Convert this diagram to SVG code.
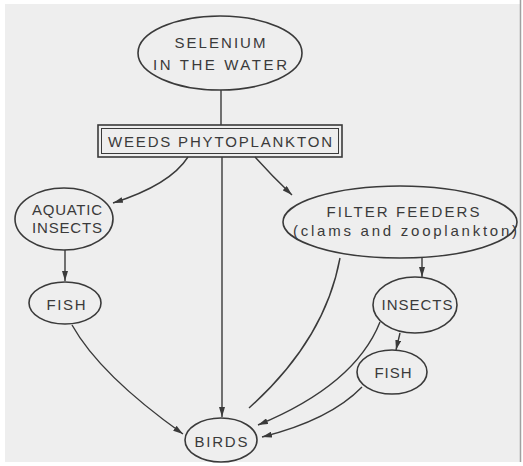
<svg xmlns="http://www.w3.org/2000/svg" width="523" height="466" viewBox="0 0 523 466">
<style>
.n{fill:none;stroke:#3a3a3a;stroke-width:1.6}
.c{fill:none;stroke:#3a3a3a;stroke-width:1.4}
text{font-family:"Liberation Sans",Arial,sans-serif;font-size:15px;fill:#3a3a3a;text-anchor:middle}
</style>
<defs>
<marker id="a" viewBox="0 0 10 6" refX="10" refY="3" markerWidth="10" markerHeight="6" markerUnits="userSpaceOnUse" orient="auto">
<path d="M0,0 L10,3 L0,6 Z" fill="#3a3a3a"/>
</marker>
</defs>
<rect width="523" height="466" fill="#ffffff"/>
<rect x="5" y="4" width="515" height="458" fill="#eeeeee"/>
<line x1="520.5" y1="0" x2="520.5" y2="462" stroke="#a0a0a0" stroke-width="1.5"/>
<g id="connectors">
<line class="c" x1="221" y1="90" x2="221" y2="125"/>
<line class="c" x1="222" y1="157" x2="222" y2="417" marker-end="url(#a)"/>
<path class="c" d="M188,157 Q170,185 113,203" marker-end="url(#a)"/>
<path class="c" d="M255,157 Q272,176 292,195" marker-end="url(#a)"/>
<line class="c" x1="65" y1="250" x2="65" y2="281" marker-end="url(#a)"/>
<path class="c" d="M72,325 Q100,375 183,434" marker-end="url(#a)"/>
<path class="c" d="M340,258 Q325,340 249,408"/>
<path class="c" d="M380,322 Q355,385 258,425" marker-end="url(#a)"/>
<path class="c" d="M362,387 Q330,420 262,437" marker-end="url(#a)"/>
<line class="c" x1="422" y1="258" x2="422" y2="277" marker-end="url(#a)"/>
<line class="c" x1="400" y1="333" x2="396" y2="350" marker-end="url(#a)"/>
</g>
<g id="selenium">
<ellipse class="n" cx="220" cy="53" rx="82" ry="37"/>
<text x="220" y="48" textLength="91" lengthAdjust="spacing">SELENIUM</text>
<text x="220" y="70" textLength="134" lengthAdjust="spacing">IN THE WATER</text>
</g>
<g id="weeds">
<rect class="n" x="98" y="125" width="244" height="32"/>
<rect x="101.5" y="128.5" width="237" height="25" fill="none" stroke="#3a3a3a" stroke-width="1"/>
<text x="220" y="147" textLength="224" lengthAdjust="spacing">WEEDS PHYTOPLANKTON</text>
</g>
<g id="aquatic-insects">
<ellipse class="n" cx="64" cy="219" rx="49" ry="31"/>
<text x="67" y="215" textLength="70" lengthAdjust="spacing">AQUATIC</text>
<text x="67" y="233" textLength="70" lengthAdjust="spacing">INSECTS</text>
</g>
<g id="fish-left">
<ellipse class="n" cx="65" cy="303" rx="36" ry="21"/>
<text x="66" y="310" textLength="39" lengthAdjust="spacing">FISH</text>
</g>
<g id="filter-feeders">
<ellipse class="n" cx="400" cy="222" rx="117" ry="36"/>
<text x="403" y="217" textLength="153" lengthAdjust="spacing">FILTER FEEDERS</text>
<text x="405" y="236" textLength="224" lengthAdjust="spacing">(clams and  zooplankton)</text>
</g>
<g id="insects">
<ellipse class="n" cx="415" cy="305" rx="42" ry="28"/>
<text x="417" y="310" textLength="71" lengthAdjust="spacing">INSECTS</text>
</g>
<g id="fish-right">
<ellipse class="n" cx="392" cy="372" rx="35" ry="22"/>
<text x="393" y="378" textLength="37" lengthAdjust="spacing">FISH</text>
</g>
<g id="birds">
<ellipse class="n" cx="221" cy="440" rx="36" ry="22"/>
<text x="221" y="447" textLength="53" lengthAdjust="spacing">BIRDS</text>
</g>
</svg>
